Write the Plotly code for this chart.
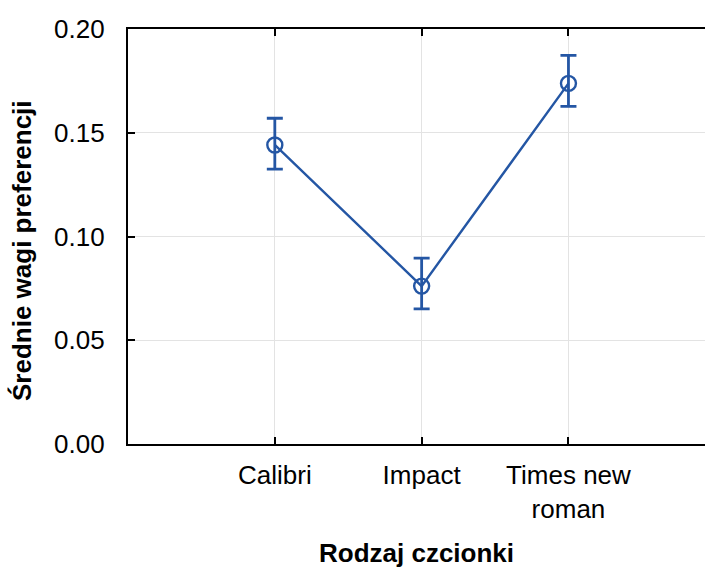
import plotly.graph_objects as go

categories = ["Calibri", "Impact", "Times new<br>roman"]
means = [0.1441, 0.0761, 0.1738]
upper = [0.1570, 0.0896, 0.1873]
lower = [0.1325, 0.0651, 0.1627]

y_ticks = [0.00, 0.05, 0.10, 0.15, 0.20]
y_tick_text = ["0.00", "0.05", "0.10", "0.15", "0.20"]

COLOR = "#2456A4"
FONT = "Liberation Sans, Arial, sans-serif"

x_idx = list(range(len(categories)))
err_plus = [u - m for u, m in zip(upper, means)]
err_minus = [m - l for m, l in zip(means, lower)]

fig = go.Figure()
fig.add_trace(go.Scatter(
    x=x_idx, y=means, mode="lines+markers",
    line=dict(color=COLOR, width=2.4),
    marker=dict(symbol="circle-open", size=15, color=COLOR, line=dict(width=2.4, color=COLOR)),
    error_y=dict(type="data", symmetric=False, array=err_plus, arrayminus=err_minus,
                 color=COLOR, thickness=2.8, width=8),
    showlegend=False,
))

fig.update_layout(
    width=705, height=571,
    margin=dict(l=128, r=0, t=29, b=127),
    plot_bgcolor="white", paper_bgcolor="white",
    font=dict(family=FONT, size=26, color="black"),
    xaxis=dict(
        range=[-1, 2.93], tickmode="array", tickvals=x_idx, ticktext=categories,
        showgrid=True, gridcolor="#e3e3e3", gridwidth=1,
        showline=True, linecolor="black", linewidth=2.2, mirror="ticks",
        ticks="inside", ticklen=7, tickwidth=1.8, tickcolor="black",
        zeroline=False, ticklabelstandoff=7,
        tickfont=dict(size=26),
    ),
    yaxis=dict(
        range=[0, 0.20], tickmode="array", tickvals=y_ticks, ticktext=y_tick_text,
        showgrid=True, gridcolor="#e3e3e3", gridwidth=1,
        showline=True, linecolor="black", linewidth=2.2,
        ticks="inside", ticklen=7, tickwidth=1.8, tickcolor="black",
        zeroline=False, ticklabelstandoff=16,
        tickfont=dict(size=26),
    ),
    annotations=[
        dict(text="<b>Średnie wagi preferencji</b>", textangle=-90,
             xref="paper", yref="paper", x=-128/577, xshift=5, xanchor="left",
             y=(444-251)/415, yanchor="middle", showarrow=False,
             font=dict(size=26, family=FONT)),
        dict(text="<b>Rodzaj czcionki</b>",
             xref="paper", yref="paper", x=0.5, xanchor="center",
             y=-(568-444)/415, yanchor="bottom", yshift=-2, showarrow=False,
             font=dict(size=26, family=FONT)),
    ],
)

fig.write_html("out.html")
